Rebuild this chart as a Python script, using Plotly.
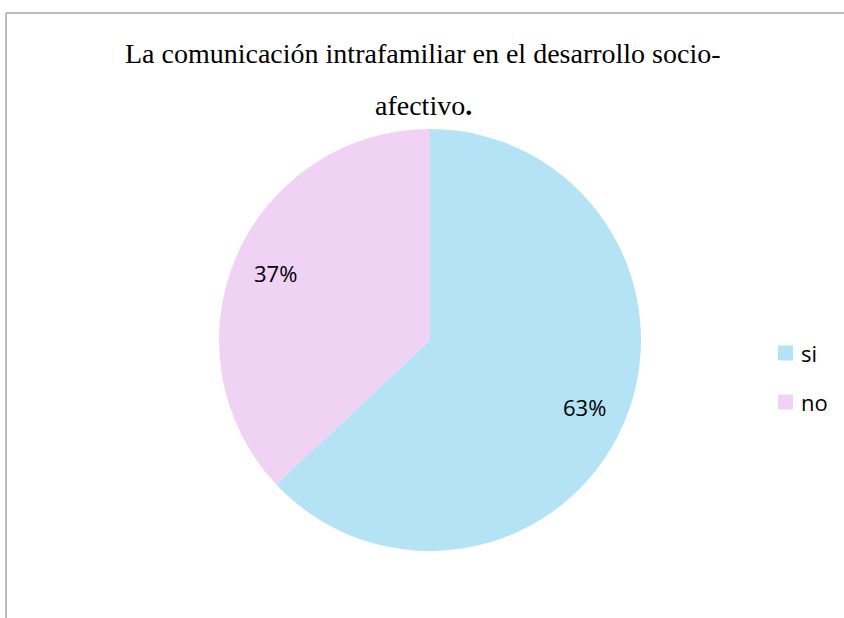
import math
import plotly.graph_objects as go

categories = ["si", "no"]
values = [63, 37]
colors = ["#b3e3f4", "#f0d2f4"]
title_lines = ["La comunicación intrafamiliar en el desarrollo socio-", "afectivo<b>.</b>"]

W, H = 844, 618
cx, cy, R = 430, 340, 211

fig = go.Figure()
fig.add_trace(go.Pie(
    labels=categories, values=values, sort=False, direction="clockwise", rotation=0,
    marker=dict(colors=colors, line=dict(width=0)),
    textinfo="none", hoverinfo="label+percent", showlegend=False,
    domain=dict(x=[(cx - R) / W, (cx + R) / W], y=[1 - (cy + R) / H, 1 - (cy - R) / H]),
))

# percentage labels positioned along each slice's bisector
total = sum(values)
acc = 0
annotations = []
for v in values:
    mid = (acc + v / 2) / total * 2 * math.pi
    acc += v
    px = cx + 0.80 * R * math.sin(mid)
    py = cy - 0.80 * R * math.cos(mid)
    annotations.append(dict(x=px / W, y=1 - py / H, xref="paper", yref="paper",
                            text=f"{round(v / total * 100)}%", showarrow=False,
                            font=dict(family="Open Sans", size=22, color="#000000"),
                            xanchor="center", yanchor="middle"))

# title (two lines, double spaced)
for i, line in enumerate(title_lines):
    annotations.append(dict(x=423 / W, y=1 - (54 + 51 * i) / H, xref="paper", yref="paper",
                            text=line, showarrow=False,
                            font=dict(family="Liberation Serif", size=28, color="#000000"),
                            xanchor="center", yanchor="middle"))

# legend
shapes = []
for i, (cat, col) in enumerate(zip(categories, colors)):
    yc = 353 + 49 * i
    shapes.append(dict(type="rect", xref="paper", yref="paper",
                       x0=778 / W, x1=793 / W, y0=1 - (yc + 7.5) / H, y1=1 - (yc - 7.5) / H,
                       fillcolor=col, line=dict(width=0)))
    annotations.append(dict(x=799 / W, y=1 - yc / H, xref="paper", yref="paper",
                            text=cat, showarrow=False,
                            font=dict(family="Open Sans", size=22, color="#000000"),
                            xanchor="left", yanchor="middle"))

# chart border (top and left visible)
shapes.append(dict(type="line", xref="paper", yref="paper", x0=6 / W, x1=1, y0=1 - 13 / H, y1=1 - 13 / H,
                   line=dict(color="#a6a6a6", width=1.5)))
shapes.append(dict(type="line", xref="paper", yref="paper", x0=6 / W, x1=6 / W, y0=0, y1=1 - 13 / H,
                   line=dict(color="#a6a6a6", width=1.5)))

fig.update_layout(width=W, height=H, margin=dict(l=0, r=0, t=0, b=0),
                  paper_bgcolor="white", plot_bgcolor="white",
                  annotations=annotations, shapes=shapes, showlegend=False)
fig.write_html("out.html", config={"displayModeBar": False},
               post_script="document.body.style.margin='0';")
